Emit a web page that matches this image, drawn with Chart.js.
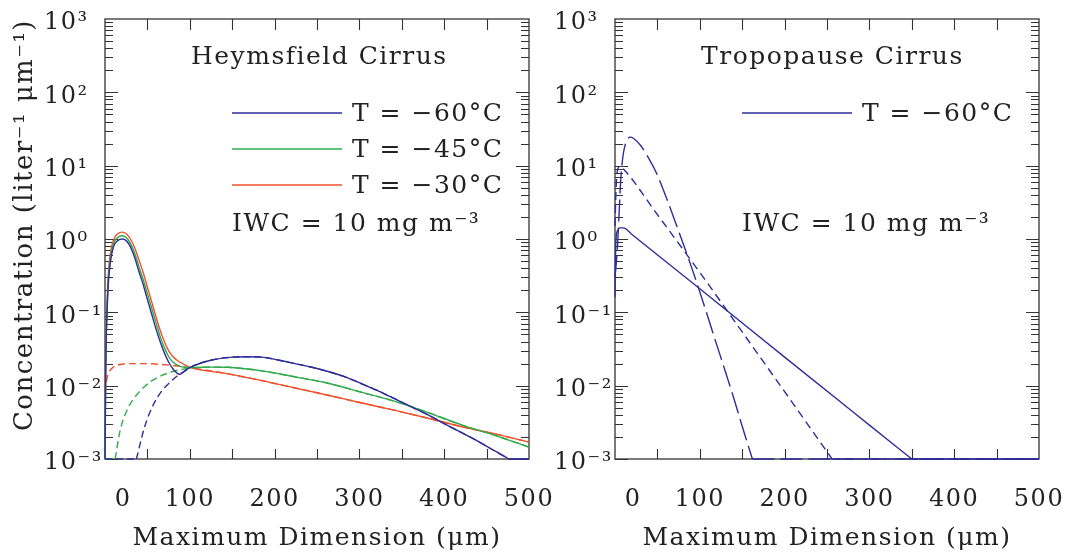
<!DOCTYPE html>
<html>
<head>
<meta charset="utf-8">
<script src="https://cdn.jsdelivr.net/npm/chart.js@4.4.1/dist/chart.umd.min.js"></script>
<style>
  body { margin: 0; background: #fff; }
  canvas { position: absolute; top: 0; }
</style>
</head>
<body>
<canvas id="heymsfield" width="580" height="554" style="left:0"></canvas>
<canvas id="tropopause" width="570" height="554" style="left:500px"></canvas>
<script>
// Heymsfield cirrus: total size distribution (solid) and large-particle mode (dashed)
const hmD60 = [0, 1, 3, 6, 10, 15, 20, 25, 30, 35, 40, 45, 50, 55, 60, 65, 70, 75, 80, 88, 95, 100, 106, 126, 150, 169, 185, 204, 224, 244, 264, 283, 302, 322, 342, 362, 381, 401, 420, 440, 455, 472, 476, 500];
const hmN60 = [0.001, 0.02, 0.15, 0.45, 0.78, 0.95, 1.0, 0.95, 0.78, 0.56, 0.36, 0.24, 0.15, 0.095, 0.06, 0.04, 0.028, 0.021, 0.017, 0.0143, 0.0163, 0.0176, 0.019, 0.0224, 0.0245, 0.0248, 0.0245, 0.0224, 0.02, 0.0178, 0.0155, 0.0132, 0.0107, 0.0085, 0.0066, 0.0051, 0.004, 0.003, 0.0023, 0.00174, 0.00138, 0.00107, 0.001, 0.001];
const hmLargeD60 = [0, 37, 47, 57, 67, 77, 86, 96, 106, 126, 150, 169, 185, 204, 224, 244, 264, 283, 302, 322, 342, 362, 381, 401, 420, 440, 455, 472, 476, 500];
const hmLargeN60 = [0.001, 0.001, 0.0028, 0.0055, 0.0085, 0.0112, 0.0138, 0.0163, 0.019, 0.0224, 0.0245, 0.0248, 0.0245, 0.0224, 0.02, 0.0178, 0.0155, 0.0132, 0.0107, 0.0085, 0.0066, 0.0051, 0.004, 0.003, 0.0023, 0.00174, 0.00138, 0.00107, 0.001, 0.001];

const hmD45 = [0, 1, 3, 6, 10, 15, 20, 25, 30, 35, 40, 45, 50, 55, 60, 65, 70, 75, 80, 88, 95, 100, 106, 125, 145, 165, 185, 224, 263, 303, 342, 381, 421, 460, 500];
const hmN45 = [0.001, 0.022, 0.17, 0.5, 0.86, 1.05, 1.11, 1.05, 0.87, 0.64, 0.42, 0.28, 0.18, 0.115, 0.073, 0.047, 0.033, 0.025, 0.021, 0.0185, 0.0178, 0.0177, 0.0177, 0.0179, 0.0178, 0.017, 0.0159, 0.0132, 0.0108, 0.0081, 0.0061, 0.0043, 0.0029, 0.0021, 0.00145];
const hmLargeD45 = [0, 12, 18, 27, 37, 47, 57, 67, 77, 86, 96, 106, 125, 145, 165, 185, 224, 263, 303, 342, 381, 421, 460, 500];
const hmLargeN45 = [0.001, 0.001, 0.0025, 0.0049, 0.0074, 0.0098, 0.012, 0.0138, 0.0152, 0.0163, 0.0171, 0.0176, 0.0179, 0.0178, 0.017, 0.0159, 0.0132, 0.0108, 0.0081, 0.0061, 0.0043, 0.0029, 0.0021, 0.00145];

const hmD30 = [0, 1, 3, 6, 10, 15, 20, 25, 30, 35, 40, 45, 50, 55, 60, 65, 70, 75, 80, 88, 95, 100, 145, 185, 224, 263, 303, 342, 381, 421, 460, 500];
const hmN30 = [0.009, 0.035, 0.22, 0.6, 0.97, 1.18, 1.24, 1.18, 1.0, 0.76, 0.52, 0.35, 0.22, 0.14, 0.088, 0.057, 0.04, 0.03, 0.025, 0.021, 0.019, 0.0178, 0.0145, 0.0117, 0.0093, 0.0074, 0.0058, 0.0046, 0.0036, 0.00275, 0.0022, 0.0017];
const hmLargeD30 = [0, 2, 5, 10, 20, 30, 45, 60, 80, 100, 145, 185, 224, 263, 303, 342, 381, 421, 460, 500];
const hmLargeN30 = [0.008, 0.012, 0.0155, 0.018, 0.0196, 0.02, 0.02, 0.0197, 0.0188, 0.0176, 0.0145, 0.0117, 0.0093, 0.0074, 0.0058, 0.0046, 0.0036, 0.00275, 0.0022, 0.0017];

// Tropopause cirrus, T = -60 C: three distributions (solid, short dash, long dash)
const tpD = [0, 1, 3, 6, 10, 20, 100, 200, 300, 350, 500];
const tpN = [0.16, 0.9, 1.3, 1.42, 1.42, 1.15, 0.21, 0.0245, 0.0029, 0.001, 0.001];
const tpShortD = [0, 1, 2, 4, 6, 10, 50, 100, 150, 200, 256, 500];
const tpShortN = [1.5, 4, 7, 9.5, 9.8, 9.0, 2.15, 0.35, 0.054, 0.0083, 0.001, 0.001];
const tpLongD = [0, 3, 5, 7, 10, 14, 18, 22, 30, 40, 49, 60, 70, 80, 90, 100, 110, 120, 130, 140, 150, 162, 500];
const tpLongN = [0.3, 0.8, 2.5, 7, 15, 22, 24.5, 23.5, 19, 12.5, 7.9, 3.8, 1.85, 0.89, 0.42, 0.19, 0.083, 0.036, 0.0158, 0.0068, 0.0028, 0.001, 0.001];

// axes and labels
const xTickValues = [0, 100, 200, 300, 400, 500];
const xTickLabels = ['0', '100', '200', '300', '400', '500'];
const yTickValues = [1e-3, 1e-2, 1e-1, 1, 10, 100, 1000];
const yTickLabels = ['10⁻³', '10⁻²', '10⁻¹', '10⁰', '10¹', '10²', '10³'];
const xTitle = 'Maximum Dimension (μm)';
const yTitle = 'Concentration (liter⁻¹ μm⁻¹)';
const tempLabels = ['T = −60°C', 'T = −45°C', 'T = −30°C'];
const iwcText = 'IWC = 10 mg m⁻³';

const FLOOR = 0.001; // bottom of the plot, curves below it run along the axis
const BLUE = '#2e2e98';
const GREEN = '#2fab4a';
const RED = '#f0502c';
const INK = '#222';
const FAMILY = '"DejaVu Serif", serif';
const TEXT_FONT = { family: FAMILY, size: 25 };
const TICK_FONT = { family: FAMILY, size: 24 };

// one series -> datasets: smooth where it is a curve, straight where it lies on the floor
function series(label, xs, ys, color, dash) {
    const groups = [];
    for (let i = 0; i < xs.length - 1; i++) {
        const flat = ys[i] === FLOOR && ys[i + 1] === FLOOR;
        const last = groups[groups.length - 1];
        if (last && last.flat === flat) last.end = i + 1;
        else groups.push({ flat: flat, start: i, end: i + 1 });
    }
    return groups.map((g, k) => ({
        label: k === 0 ? label : '',
        data: xs.slice(g.start, g.end + 1).map((x, j) => ({ x: x, y: ys[g.start + j] })),
        borderColor: color,
        borderWidth: 1.4,
        borderDash: dash || [],
        pointRadius: 0,
        fill: false,
        tension: 0,
        cubicInterpolationMode: g.flat ? 'default' : 'monotone',
        clip: 2,
    }));
}

// the original's lettering is wider than DejaVu, open it up a little
const spacing = {
    id: 'spacing',
    beforeDraw(chart) { chart.ctx.letterSpacing = '1.5px'; }
};

// frame with inward ticks on all four sides
const frameTicks = {
    id: 'frameTicks',
    beforeDatasetsDraw(chart) {
        const { ctx, chartArea: a, scales: { x, y } } = chart;
        ctx.save();
        ctx.strokeStyle = '#333';
        ctx.lineWidth = 1.3;
        ctx.strokeRect(a.left, a.top, a.right - a.left, a.bottom - a.top);
        ctx.beginPath();
        for (let e = -3; e < 3; e++) {
            for (let m = 1; m <= 9; m++) {
                const py = Math.round(y.getPixelForValue(m * Math.pow(10, e))) + 0.5;
                const len = m === 1 ? 13 : 8;
                ctx.moveTo(a.left, py); ctx.lineTo(a.left + len, py);
                ctx.moveTo(a.right, py); ctx.lineTo(a.right - len, py);
            }
        }
        for (let v = 50; v < 500; v += 50) {
            const px = Math.round(x.getPixelForValue(v)) + 0.5;
            ctx.moveTo(px, a.bottom); ctx.lineTo(px, a.bottom - 10);
            ctx.moveTo(px, a.top); ctx.lineTo(px, a.top + 11);
        }
        ctx.lineWidth = 1.1;
        ctx.stroke();
        ctx.restore();
    }
};

// panel title, key and IWC note inside the plot
const panelText = {
    id: 'panelText',
    afterDraw(chart, args, opts) {
        const { ctx, chartArea: a } = chart;
        ctx.save();
        ctx.font = TEXT_FONT.size + 'px ' + FAMILY;
        ctx.fillStyle = INK;
        ctx.textBaseline = 'alphabetic';
        ctx.fillText(opts.title, a.left + 86, 64);
        chart.data.datasets.filter(d => d.label).forEach((d, i) => {
            const ly = 113 + i * 36;
            ctx.strokeStyle = d.borderColor;
            ctx.lineWidth = 1.4;
            ctx.beginPath();
            ctx.moveTo(a.left + 127, ly);
            ctx.lineTo(a.left + 237, ly);
            ctx.stroke();
            ctx.textBaseline = 'middle';
            ctx.fillText(d.label, a.left + 247, ly + 1);
        });
        ctx.textBaseline = 'alphabetic';
        ctx.fillText(iwcText, a.left + 127, 231);
        ctx.restore();
    }
};

// y labels are left-aligned, starting 61 px left of the frame
function panelOptions(title, padLeft, padRight, showYTitle) {
    return {
        responsive: false,
        animation: false,
        layout: { padding: { top: 19, right: padRight, left: padLeft, bottom: 0 } },
        plugins: {
            legend: { display: false },
            tooltip: { enabled: false },
            panelText: { title: title },
        },
        scales: {
            x: {
                type: 'linear',
                min: 0,
                max: 500,
                afterBuildTicks: (s) => { s.ticks = xTickValues.map(v => ({ value: v })); },
                afterFit: (s) => { s.height = 95; s.paddingLeft = 0; s.paddingRight = 0; },
                grid: { display: false, drawTicks: false },
                border: { display: false },
                ticks: {
                    font: TICK_FONT, color: INK, padding: 26, maxRotation: 0, autoSkip: false,
                    // the original sets its "0" a little right of the axis origin
                    callback: (v, i) => (i === 0 ? '    ' : '') + xTickLabels[i],
                },
                title: { display: true, text: xTitle, font: TEXT_FONT, color: INK, padding: { top: 0, bottom: 1 } },
            },
            y: {
                type: 'logarithmic',
                min: 1e-3,
                max: 1e3,
                afterBuildTicks: (s) => { s.ticks = yTickValues.map(v => ({ value: v })); },
                afterFit: (s) => { s.width = 61; s.paddingTop = 0; s.paddingBottom = 0; },
                grid: { display: false, drawTicks: false },
                border: { display: false },
                ticks: {
                    font: TICK_FONT, color: INK, crossAlign: 'far', labelOffset: 4, autoSkip: false,
                    callback: (v, i) => yTickLabels[i],
                },
                // title sits left of the labels, out in the page margin
                title: {
                    display: showYTitle, text: yTitle, font: { family: FAMILY, size: 26 }, color: INK,
                    align: 'end', padding: { top: -34 },
                },
            },
        },
    };
}

new Chart(document.getElementById('heymsfield'), {
    type: 'line',
    data: {
        datasets: [
            ...series(tempLabels[0], hmD60, hmN60, BLUE),
            ...series(tempLabels[1], hmD45, hmN45, GREEN),
            ...series(tempLabels[2], hmD30, hmN30, RED),
            ...series('', hmLargeD60, hmLargeN60, BLUE, [7, 4]),
            ...series('', hmLargeD45, hmLargeN45, GREEN, [7, 4]),
            ...series('', hmLargeD30, hmLargeN30, RED, [7, 4]),
        ],
    },
    options: panelOptions('Heymsfield Cirrus', 44, 51, true),
    plugins: [spacing, frameTicks, panelText],
});

new Chart(document.getElementById('tropopause'), {
    type: 'line',
    data: {
        datasets: [
            ...series(tempLabels[0], tpD, tpN, BLUE),
            ...series('', tpShortD, tpShortN, BLUE, [8, 5]),
            ...series('', tpLongD, tpLongN, BLUE, [22, 6]),
        ],
    },
    options: panelOptions('Tropopause Cirrus', 54, 31, false),
    plugins: [spacing, frameTicks, panelText],
});
</script>
</body>
</html>
